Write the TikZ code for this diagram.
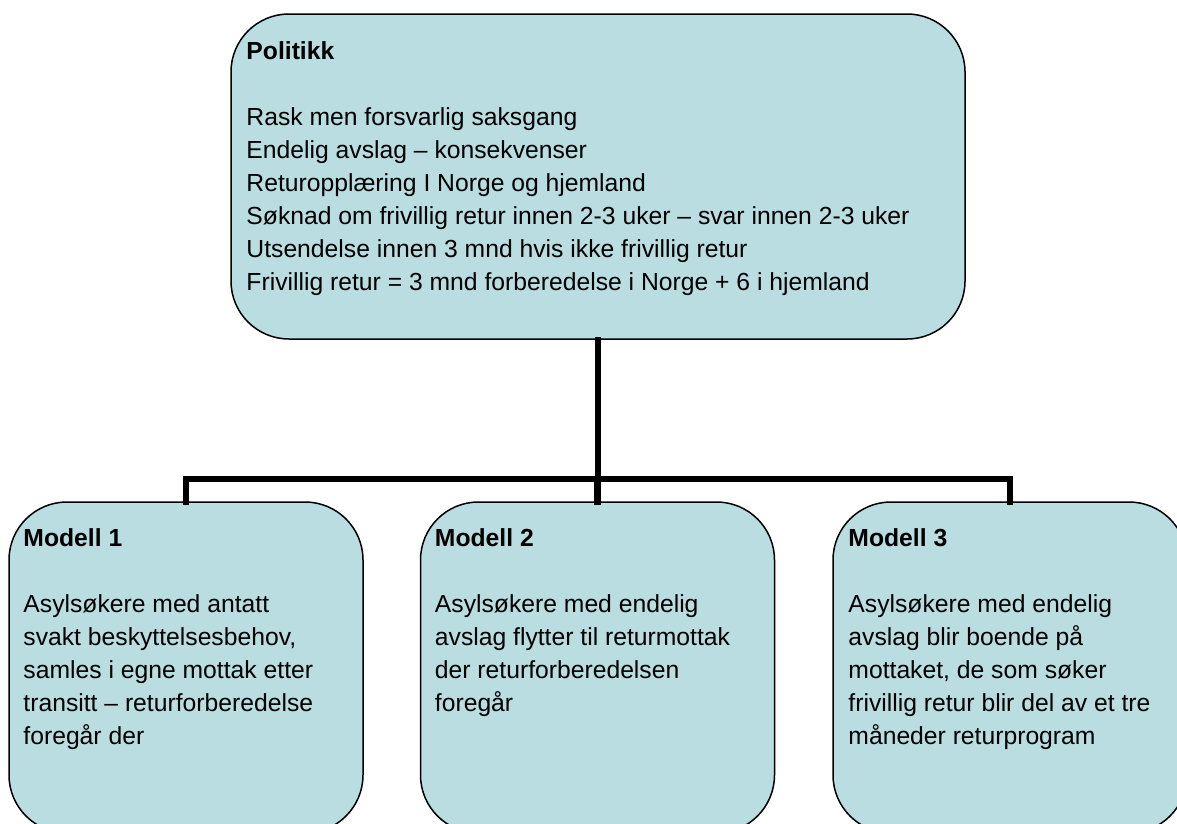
\documentclass[tikz,border=0pt]{standalone}
\usepackage{fontspec}
\setmainfont{Liberation Sans}
\begin{document}
\begin{tikzpicture}[x=1pt,y=-1pt,
  box/.style={draw=black, line width=1.5pt, fill=boxfill, rounded corners=58pt, inner sep=0pt},
  txt/.style={anchor=north west, inner sep=0pt, align=left, font=\fontsize{24.7}{33}\selectfont},
  conn/.style={draw=black, line width=6.5pt, line join=miter, line cap=rect}]
\definecolor{boxfill}{RGB}{185,221,224}
\useasboundingbox (0,0) rectangle (1177,823);
\clip (0,0) rectangle (1177,823);
\node[box, minimum width=734pt, minimum height=325pt] (top) at (598,176.5) {};
\node[box, minimum width=354pt, minimum height=331pt] (m1) at (186,667.5) {};
\node[box, minimum width=354pt, minimum height=331pt] (m2) at (597.5,667.5) {};
\node[box, minimum width=354pt, minimum height=331pt] (m3) at (1010,667.5) {};
\coordinate (bus) at (598,479);
\node[txt] (ttop) at ([xshift=16pt,yshift=-28pt]top.north west) {\textbf{Politikk}\\[33pt]
Rask men forsvarlig saksgang\\
Endelig avslag – konsekvenser\\
Returopplæring I Norge og hjemland\\
Søknad om frivillig retur innen 2-3 uker – svar innen 2-3 uker\\
Utsendelse innen 3 mnd hvis ikke frivillig retur\\
Frivillig retur = 3 mnd forberedelse i Norge + 6 i hjemland};
\node[txt] (t1) at ([xshift=15pt,yshift=-27pt]m1.north west) {\textbf{Modell 1}\\[33pt]
Asylsøkere med antatt\\
svakt beskyttelsesbehov,\\
samles i egne mottak etter\\
transitt – returforberedelse\\
foregår der};
\node[txt] (t2) at ([xshift=15pt,yshift=-27pt]m2.north west) {\textbf{Modell 2}\\[33pt]
Asylsøkere med endelig\\
avslag flytter til returmottak\\
der returforberedelsen\\
foregår};
\node[txt] (t3) at ([xshift=16pt,yshift=-27pt]m3.north west) {\textbf{Modell 3}\\[33pt]
Asylsøkere med endelig\\
avslag blir boende på\\
mottaket, de som søker\\
frivillig retur blir del av et tre\\
måneder returprogram};
\draw[conn] (top.south) -- (top.south |- bus);
\draw[conn] (m2.north) -- (m2.north |- bus);
\draw[conn] (m1.north) -- (m1.north |- bus) -- (m3.north |- bus) -- (m3.north);
\end{tikzpicture}
\end{document}
